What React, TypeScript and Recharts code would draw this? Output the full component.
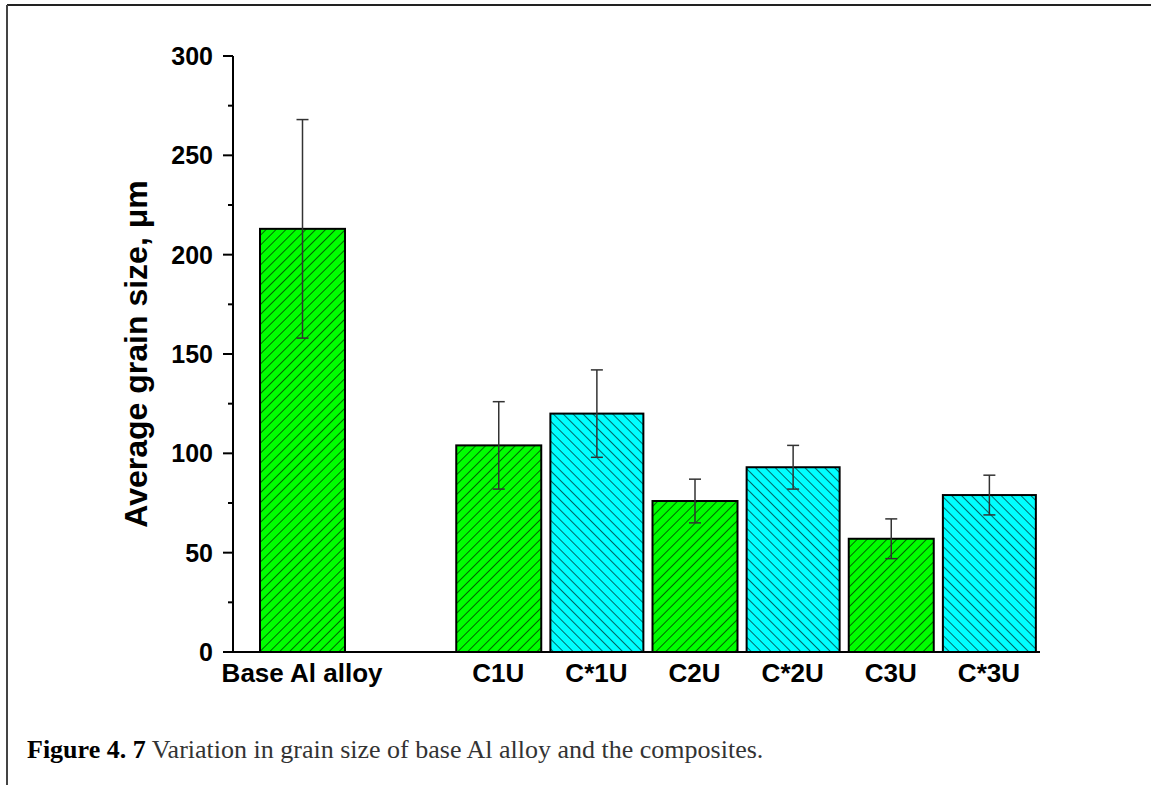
import { BarChart, Bar, XAxis, YAxis, ErrorBar } from 'recharts'

// Average grain size (µm) with standard deviation per sample
const categories = ['Base Al alloy', '', 'C1U', 'C*1U', 'C2U', 'C*2U', 'C3U', 'C*3U']
const grainSize = [213, null, 104, 120, 76, 93, 57, 79]
const grainSizeErr = [55, null, 22, 22, 11, 11, 10, 10]
const barKind = ['green', null, 'green', 'cyan', 'green', 'cyan', 'green', 'cyan']
const yTicks = [0, 25, 50, 75, 100, 125, 150, 175, 200, 225, 250, 275, 300]

const data = categories.map((name, i) => ({
  name,
  size: grainSize[i],
  err: grainSizeErr[i],
  kind: barKind[i],
}))

const FONT = '"Liberation Sans", Arial, Helvetica, sans-serif'
const SERIF = '"Liberation Serif", "Times New Roman", serif'

// hatched bar, green ones a bit narrower than the cyan ones
const HatchedBar = (props: any) => {
  const { x, y, width, height, payload } = props
  if (!height || !payload || !payload.kind) return <g />
  const w = payload.kind === 'green' ? 85 : 93
  const cx = x + width / 2
  return (
    <rect
      x={cx - w / 2}
      y={y}
      width={w}
      height={height}
      fill={payload.kind === 'green' ? 'url(#hatchGreen)' : 'url(#hatchCyan)'}
      stroke="#000"
      strokeWidth={2}
    />
  )
}

// major ticks every 50 with labels, minor ticks in between
const YTick = (props: any) => {
  const { x, y, payload } = props
  const axisX = x + 20
  const major = payload.value % 50 === 0
  return (
    <g>
      <line x1={axisX - (major ? 10 : 5)} x2={axisX} y1={y} y2={y} stroke="#000" strokeWidth={2} />
      {major && (
        <text
          x={x}
          y={y}
          dy="0.355em"
          textAnchor="end"
          fontFamily={FONT}
          fontWeight="bold"
          fontSize={25}
          fill="#000"
        >
          {payload.value}
        </text>
      )}
    </g>
  )
}

export default function App() {
  return (
    <div style={{ position: 'absolute', left: 0, top: 0, width: 1151, height: 785, background: '#fff' }}>
      <BarChart
        width={1151}
        height={785}
        data={data}
        margin={{ top: 56, right: 111, bottom: 73, left: 0 }}
        barSize={93}
      >
        <defs>
          <pattern id="hatchGreen" width="7" height="7" patternUnits="userSpaceOnUse" patternTransform="rotate(45)">
            <rect width="7" height="7" fill="#00ff00" />
            <line x1="0" y1="0" x2="0" y2="7" stroke="#000" strokeWidth={1.2} />
          </pattern>
          <pattern id="hatchCyan" width="7" height="7" patternUnits="userSpaceOnUse" patternTransform="rotate(-45)">
            <rect width="7" height="7" fill="#00ffff" />
            <line x1="0" y1="0" x2="0" y2="7" stroke="#000" strokeWidth={1.2} />
          </pattern>
        </defs>
        <XAxis
          dataKey="name"
          interval={0}
          height={60}
          padding={{ left: 20, right: 2 }}
          axisLine={{ stroke: '#000', strokeWidth: 2 }}
          tickLine={false}
          tickSize={0}
          tickMargin={12}
          tick={{ fontFamily: FONT, fontWeight: 'bold', fontSize: 26, fill: '#000' }}
        />
        <YAxis
          width={233}
          domain={[0, 300]}
          ticks={yTicks}
          interval={0}
          axisLine={{ stroke: '#000', strokeWidth: 2 }}
          tickLine={false}
          tickSize={10}
          tickMargin={10}
          tick={<YTick />}
        />
        <Bar dataKey="size" shape={<HatchedBar />} isAnimationActive={false}>
          <ErrorBar dataKey="err" width={6} stroke="#333" strokeWidth={1.5} />
        </Bar>
      </BarChart>

      <svg
        width={1151}
        height={785}
        style={{ position: 'absolute', left: 0, top: 0, pointerEvents: 'none' }}
      >
        <line x1={7} y1={5} x2={1151} y2={5} stroke="#222" strokeWidth={2} />
        <line x1={7} y1={5} x2={7} y2={785} stroke="#444" strokeWidth={2} />
        <text
          transform="translate(147,354) rotate(-90)"
          textAnchor="middle"
          fontFamily={FONT}
          fontWeight="bold"
          fontSize={32}
          fill="#000"
        >
          Average grain size, μm
        </text>
        <text x={27} y={758} fontFamily={SERIF} fontSize={26} fill="#333">
          <tspan fontWeight="bold" fill="#000">Figure 4. 7</tspan> Variation in grain size of base Al alloy and the composites.
        </text>
      </svg>
    </div>
  )
}
